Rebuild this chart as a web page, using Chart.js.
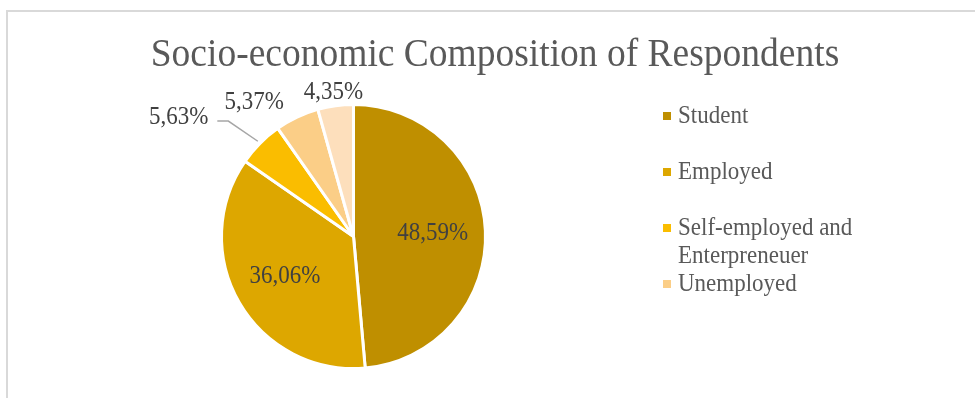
<!DOCTYPE html>
<html>
<head>
<meta charset="utf-8">
<script src="https://cdn.jsdelivr.net/npm/chart.js@4/dist/chart.umd.min.js"></script>
<style>
  html, body { margin: 0; padding: 0; background: #fff; overflow: hidden; }
  #frame { position: absolute; left: 6px; top: 10px; width: 1000px; height: 420px;
           border-left: 2px solid #d9d9d9; border-top: 2px solid #d9d9d9; }
  #wrap { position: absolute; left: 0; top: 0; width: 975px; height: 398px; }
</style>
</head>
<body>
<div id="frame"></div>
<div id="wrap"><canvas id="pieChart"></canvas></div>
<script>
// data
const categories = ['Student', 'Employed', 'Self-employed and Enterpreneuer', 'Unemployed', 'Other'];
const shares = [48.59, 36.06, 5.63, 5.37, 4.35];
const legendLines = [['Student'], ['Employed'], ['Self-employed and', 'Enterpreneuer'], ['Unemployed']];
const chartTitle = 'Socio-economic Composition of Respondents';

const sliceColors = ['#BF8F00', '#DDA700', '#FABD00', '#FBCE87', '#FDDFBC'];
const serif = "'Liberation Serif', 'Times New Roman', serif";

// which labels sit inside the slice, and nudges for the outside ones (px)
const labelInside = [true, true, false, false, false];
const labelNudge = [[0, 0], [0, 0], [-70, -15], [-36, 0], [0, 3]];

function fmt(v) {
    return v.toFixed(2).replace('.', ',') + '%';
}

// the reference text is a little taller than it is wide, so stretch it vertically
function stretchText(ctx, text, x, y, yScale) {
    ctx.save();
    ctx.translate(x, y);
    ctx.scale(1, yScale);
    ctx.fillText(text, 0, 0);
    ctx.restore();
}

const decorations = {
    id: 'decorations',
    afterDatasetsDraw(chart) {
        const ctx = chart.ctx;
        const meta = chart.getDatasetMeta(0);
        ctx.save();
        ctx.font = '23px ' + serif;
        ctx.textAlign = 'center';
        ctx.textBaseline = 'middle';
        meta.data.forEach((arc, i) => {
            const p = arc.getProps(['x', 'y', 'startAngle', 'endAngle', 'outerRadius'], true);
            const mid = (p.startAngle + p.endAngle) / 2;
            const dx = Math.cos(mid), dy = Math.sin(mid);
            const text = fmt(shares[i]);
            let tx, ty;
            if (labelInside[i]) {
                tx = p.x + dx * p.outerRadius * 0.6;
                ty = p.y + dy * p.outerRadius * 0.6;
            } else {
                tx = p.x + dx * (p.outerRadius + 16) + labelNudge[i][0];
                ty = p.y + dy * (p.outerRadius + 16) + labelNudge[i][1];
            }
            // leader line for the label pushed far from its slice
            if (i === 2) {
                const half = ctx.measureText(text).width / 2;
                const endX = tx + half + 9, endY = ty + 4;
                ctx.strokeStyle = '#a6a6a6';
                ctx.lineWidth = 1.5;
                ctx.beginPath();
                ctx.moveTo(p.x + dx * (p.outerRadius + 3), p.y + dy * (p.outerRadius + 3));
                ctx.lineTo(endX + 11, endY);
                ctx.lineTo(endX, endY);
                ctx.stroke();
            }
            ctx.fillStyle = '#404040';
            stretchText(ctx, text, tx, ty, 1.08);
        });
        ctx.restore();
    },
    afterDraw(chart) {
        const ctx = chart.ctx;
        ctx.save();
        // title
        ctx.fillStyle = '#595959';
        ctx.font = '37.5px ' + serif;
        ctx.textAlign = 'center';
        ctx.textBaseline = 'middle';
        stretchText(ctx, chartTitle, 495, 56, 1.05);
        // legend
        ctx.font = '23px ' + serif;
        ctx.textAlign = 'left';
        legendLines.forEach((lines, i) => {
            const y = 116 + i * 56;
            ctx.fillStyle = sliceColors[i];
            ctx.fillRect(663, y - 4, 8, 8);
            ctx.fillStyle = '#595959';
            lines.forEach((ln, j) => stretchText(ctx, ln, 678, y + j * 28, 1.1));
        });
        ctx.restore();
    }
};

new Chart(document.getElementById('pieChart'), {
    type: 'pie',
    data: {
        labels: categories,
        datasets: [{
            data: shares,
            backgroundColor: sliceColors,
            borderColor: '#ffffff',
            borderWidth: 3
        }]
    },
    options: {
        responsive: true,
        maintainAspectRatio: false,
        animation: false,
        layout: { padding: { left: 220, right: 488, top: 103, bottom: 28 } },
        plugins: {
            legend: { display: false },
            title: { display: false },
            tooltip: { enabled: false }
        }
    },
    plugins: [decorations]
});
</script>
</body>
</html>
